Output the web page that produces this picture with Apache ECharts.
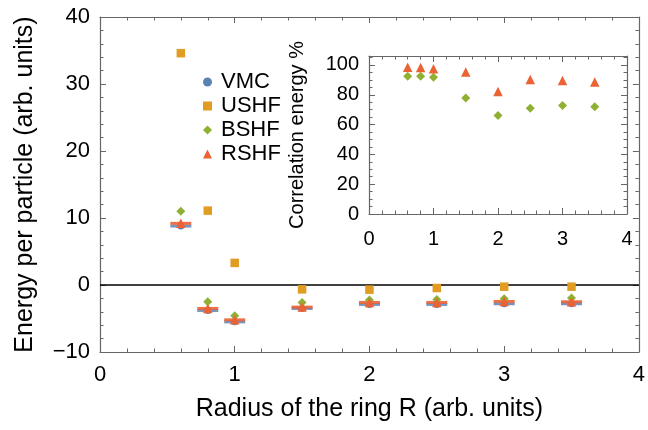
<!DOCTYPE html>
<html><head><meta charset="utf-8">
<script src="https://cdn.jsdelivr.net/npm/echarts@6/dist/echarts.min.js"></script>
<style>html,body{margin:0;padding:0;background:#fff}#c{width:648px;height:430px}</style>
</head><body><div id="c"></div>
<script>
const radius = [0.6, 0.8, 1.0, 1.5, 2.0, 2.5, 3.0, 3.5];
const vmc  = [8.8, -3.8, -5.5, -3.5, -2.9, -2.9, -2.8, -2.8];
const ushf = [34.6, 11.1, 3.3, -0.65, -0.7, -0.45, -0.25, -0.25];
const bshf = [11.0, -2.5, -4.6, -2.6, -2.25, -2.15, -2.05, -1.95];
const rshf = [9.2, -3.5, -5.2, -3.3, -2.6, -2.6, -2.45, -2.5];
const corrBshf = [92.4, 92.4, 91.7, 77.9, 66.1, 71.0, 72.8, 71.9];
const corrRshf = [98.5, 98.3, 97.5, 95.3, 82.1, 90.2, 89.5, 88.6];
const mainXTicks = [0, 1, 2, 3, 4];
const mainYTicks = [-10, 0, 10, 20, 30, 40];
const insetYTicks = [0, 20, 40, 60, 80, 100];

const C = {vmc:'#5e81b5', ushf:'#e19c24', bshf:'#8fb032', rshf:'#eb6235'};
const FONT = 'Liberation Sans';
const pairs = (xs, ys) => xs.map((x, i) => [x, ys[i]]);

function axisBase(extra) {
  return Object.assign({
    axisLine: {show: true, onZero: false, lineStyle: {color: '#666', width: 1.2}},
    axisTick: {show: true, inside: true, length: 6, lineStyle: {color: '#666', width: 1}},
    minorTick: {show: true, splitNumber: 5, length: 3.5, lineStyle: {color: '#666', width: 1}},
    splitLine: {show: false},
    axisLabel: {color: '#000', fontFamily: FONT, fontSize: 22}
  }, extra);
}

const chart = echarts.init(document.getElementById('c'), null, {renderer: 'canvas'});
chart.setOption({
  animation: false,
  textStyle: {fontFamily: FONT},
  grid: [
    {left: 100, right: 5, top: 17, bottom: 78},
    {left: 369, right: 21, top: 56, bottom: 216}
  ],
  legend: {
    data: ['VMC', 'USHF', 'BSHF', 'RSHF'],
    orient: 'vertical', left: 198, top: 66, itemGap: 2,
    itemWidth: 9, itemHeight: 9,
    textStyle: {fontFamily: FONT, fontSize: 22, color: '#000', padding: [0, 0, 0, 4]},
    selectedMode: false
  },
  xAxis: [
    axisBase({gridIndex: 0, type: 'value', min: 0, max: 4, interval: 1, position: 'bottom',
      name: 'Radius of the ring R (arb. units)', nameLocation: 'middle', nameGap: 45,
      nameTextStyle: {fontFamily: FONT, fontSize: 25, color: '#000'},
      axisLabel: {color: '#000', fontFamily: FONT, fontSize: 22, margin: 12,
        formatter: v => mainXTicks.includes(v) ? String(v) : ''}}),
    axisBase({gridIndex: 0, type: 'value', min: 0, max: 4, interval: 1, position: 'top',
      axisLabel: {show: false}}),
    axisBase({gridIndex: 1, type: 'value', min: 0, max: 4, interval: 1, position: 'bottom',
      axisLabel: {color: '#000', fontFamily: FONT, fontSize: 20, margin: 15}}),
    axisBase({gridIndex: 1, type: 'value', min: 0, max: 4, interval: 1, position: 'top',
      axisLabel: {show: false}})
  ],
  yAxis: [
    axisBase({gridIndex: 0, type: 'value', min: -10, max: 40, interval: 10, position: 'left',
      name: 'Energy per particle (arb. units)', nameLocation: 'middle', nameGap: 62,
      nameTextStyle: {fontFamily: FONT, fontSize: 25, color: '#000'},
      axisLabel: {color: '#000', fontFamily: FONT, fontSize: 22, margin: 10,
        formatter: v => mainYTicks.includes(v) ? (v < 0 ? '\u2212' + Math.abs(v) : String(v)) : ''}}),
    axisBase({gridIndex: 0, type: 'value', min: -10, max: 40, interval: 10, position: 'right',
      axisLabel: {show: false}}),
    axisBase({gridIndex: 1, type: 'value', min: 0, max: 106, interval: 20, position: 'left',
      name: 'Correlation energy %', nameLocation: 'middle', nameGap: 62,
      nameTextStyle: {fontFamily: FONT, fontSize: 20, color: '#000'},
      minorTick: {show: true, splitNumber: 4, length: 3.5, lineStyle: {color: '#666', width: 1}},
      axisLabel: {color: '#000', fontFamily: FONT, fontSize: 20, margin: 10, showMaxLabel: false,
        formatter: v => insetYTicks.includes(v) ? String(v) : ''}}),
    axisBase({gridIndex: 1, type: 'value', min: 0, max: 106, interval: 20, position: 'right',
      minorTick: {show: true, splitNumber: 4, length: 3.5, lineStyle: {color: '#666', width: 1}},
      axisLabel: {show: false}})
  ],
  series: [
    {name: 'VMC', type: 'scatter', xAxisIndex: 0, yAxisIndex: 0, symbol: 'circle', symbolSize: 7,
      itemStyle: {color: C.vmc, opacity: 1}, data: pairs(radius, vmc), z: 2,
      markLine: {silent: true, symbol: 'none', label: {show: false},
        lineStyle: {color: '#000', width: 1.5, type: 'solid'}, data: [{yAxis: 0}]}},
    {name: 'VMC line', type: 'scatter', xAxisIndex: 0, yAxisIndex: 0, symbol: 'rect', symbolSize: [21, 3],
      itemStyle: {color: C.vmc, opacity: 0.85}, data: pairs(radius, vmc), z: 3},
    {name: 'RSHF line', type: 'scatter', xAxisIndex: 0, yAxisIndex: 0, symbol: 'rect', symbolSize: [21, 3],
      itemStyle: {color: C.rshf, opacity: 0.9}, data: pairs(radius, rshf), z: 4},
    {name: 'USHF', type: 'scatter', xAxisIndex: 0, yAxisIndex: 0, symbol: 'rect', symbolSize: 8.5,
      itemStyle: {color: C.ushf, opacity: 1}, data: pairs(radius, ushf), z: 5},
    {name: 'BSHF', type: 'scatter', xAxisIndex: 0, yAxisIndex: 0, symbol: 'diamond', symbolSize: 9,
      itemStyle: {color: C.bshf, opacity: 1}, data: pairs(radius, bshf), z: 5},
    {name: 'RSHF', type: 'scatter', xAxisIndex: 0, yAxisIndex: 0, symbol: 'triangle', symbolSize: 9.5,
      itemStyle: {color: C.rshf, opacity: 1}, data: pairs(radius, rshf), z: 6},
    {name: 'BSHF', type: 'scatter', xAxisIndex: 2, yAxisIndex: 2, symbol: 'diamond', symbolSize: 9,
      itemStyle: {color: C.bshf, opacity: 1}, data: pairs(radius, corrBshf), z: 5},
    {name: 'RSHF', type: 'scatter', xAxisIndex: 2, yAxisIndex: 2, symbol: 'triangle', symbolSize: 9.5,
      itemStyle: {color: C.rshf, opacity: 1}, data: pairs(radius, corrRshf), z: 5}
  ]
});
</script></body></html>
